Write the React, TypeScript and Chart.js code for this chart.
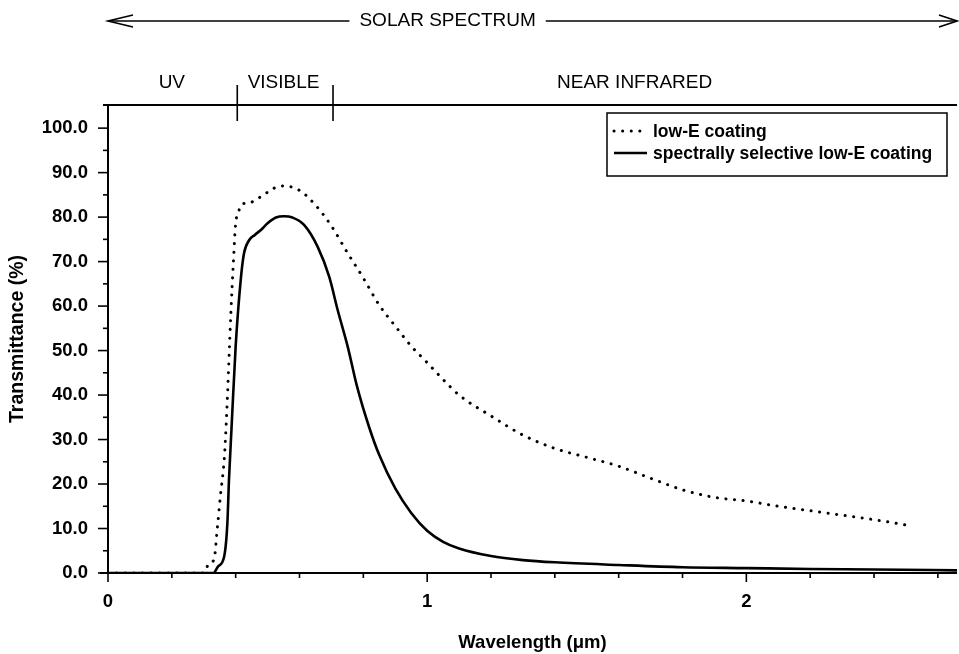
import { useEffect, useRef } from 'react';
import { Chart, registerables } from 'chart.js';

Chart.register(...registerables);

// Transmittance curves (wavelength in µm, transmittance in %)
const lowEWavelength = [
  0, 0.3, 0.317, 0.332, 0.343, 0.353, 0.364, 0.372, 0.385, 0.393, 0.4, 0.408, 0.416,
  0.442, 0.47, 0.498, 0.523, 0.55, 0.6, 0.65, 0.7, 0.75, 0.8, 0.85, 0.9, 0.95, 1.0,
  1.05, 1.1, 1.2, 1.3, 1.4, 1.5, 1.6, 1.7, 1.8, 1.9, 2.0, 2.1, 2.2, 2.3, 2.4, 2.5,
];
const lowETransmittance = [
  0, 0, 2.2, 3, 10.4, 17.9, 25.4, 36, 58.4, 70, 78.6, 80.8, 82.7,
  83.2, 84.2, 85.5, 86.6, 87, 86, 82.7, 78, 72, 66.3, 60.2, 55.5, 51, 47.3,
  43.5, 40, 35.3, 31, 28, 26, 24, 21.3, 18.7, 17, 16.2, 15, 14, 13, 12, 10.8,
];

const selectiveWavelength = [
  0, 0.33, 0.345, 0.364, 0.374, 0.379, 0.387, 0.4, 0.416, 0.426, 0.442, 0.46, 0.479,
  0.5, 0.526, 0.552, 0.578, 0.615, 0.657, 0.693, 0.72, 0.751, 0.78, 0.819, 0.85, 0.9,
  0.95, 1.0, 1.05, 1.1, 1.2, 1.3, 1.4, 1.6, 1.8, 2.0, 2.2, 2.4, 2.66,
];
const selectiveTransmittance = [
  0, 0, 1.5, 3.7, 11.2, 20.9, 32.5, 51, 66, 71.8, 74.8, 76, 77.1,
  78.6, 79.9, 80.2, 79.9, 78.2, 73.3, 66.6, 59, 50.9, 42, 32.6, 26.5, 19,
  13.5, 9.5, 7, 5.5, 3.8, 2.9, 2.4, 1.8, 1.3, 1.1, 0.9, 0.8, 0.6,
];

const seriesLabels = ['low-E coating', 'spectrally selective low-E coating'];

// Axes
const X_MAX = 2.66;
const Y_MAX = 105.2;
const xMajorTicks = [0, 1, 2];
const xMinorTicks = [0.2, 0.4, 0.6, 0.8, 1.2, 1.4, 1.6, 1.8, 2.2, 2.4, 2.6];
const yMajorTicks = [0, 10, 20, 30, 40, 50, 60, 70, 80, 90, 100];
const yMinorTicks = [5, 15, 25, 35, 45, 55, 65, 75, 85, 95];

// Spectral bands along the top
const bandLabels = ['UV', 'VISIBLE', 'NEAR INFRARED'];
const bandCenters = [0.2, 0.55, 1.65];
const bandBoundaries = [0.405, 0.705];

const INK = '#000000';
const FONT = "'Liberation Sans', Arial, Helvetica, sans-serif";

const overlayPlugin = {
  id: 'spectrumOverlay',
  afterDraw(chart: any) {
    const { ctx, chartArea: a } = chart;
    const xs = chart.scales.x;
    const ys = chart.scales.y;
    const seg = (x1: number, y1: number, x2: number, y2: number) => {
      ctx.beginPath();
      ctx.moveTo(x1, y1);
      ctx.lineTo(x2, y2);
      ctx.stroke();
    };

    ctx.save();
    ctx.strokeStyle = INK;
    ctx.fillStyle = INK;
    ctx.lineCap = 'butt';

    // axis lines and the band rule on top
    ctx.lineWidth = 2;
    seg(a.left, a.top, a.left, a.bottom + 1);
    seg(a.left - 8, a.bottom, a.right, a.bottom);
    seg(a.left - 5, a.top, a.right, a.top);

    // tick marks
    ctx.lineWidth = 1.6;
    yMajorTicks.forEach((v) => {
      const py = ys.getPixelForValue(v);
      seg(a.left - 10, py, a.left, py);
    });
    yMinorTicks.forEach((v) => {
      const py = ys.getPixelForValue(v);
      seg(a.left - 5, py, a.left, py);
    });
    xMajorTicks.forEach((v) => {
      const px = xs.getPixelForValue(v);
      seg(px, a.bottom, px, a.bottom + 9);
    });
    xMinorTicks.forEach((v) => {
      const px = xs.getPixelForValue(v);
      seg(px, a.bottom, px, a.bottom + 5);
    });

    // band separators and labels
    bandBoundaries.forEach((v) => {
      const px = xs.getPixelForValue(v);
      seg(px, a.top - 20, px, a.top + 16);
    });
    ctx.font = `19px ${FONT}`;
    ctx.textAlign = 'center';
    ctx.textBaseline = 'alphabetic';
    bandLabels.forEach((t, i) => {
      ctx.fillText(t, xs.getPixelForValue(bandCenters[i]), a.top - 17);
    });

    // solar spectrum double arrow
    const arrowY = 21;
    const title = 'SOLAR SPECTRUM';
    const titleX = a.left + 0.4 * (a.right - a.left);
    ctx.font = `19px ${FONT}`;
    ctx.textBaseline = 'middle';
    ctx.fillText(title, titleX, arrowY);
    const half = ctx.measureText(title).width / 2;
    ctx.lineWidth = 1.6;
    seg(a.left, arrowY, titleX - half - 10, arrowY);
    seg(titleX + half + 10, arrowY, a.right, arrowY);
    ctx.beginPath();
    ctx.moveTo(a.left + 25, arrowY - 6);
    ctx.lineTo(a.left, arrowY);
    ctx.lineTo(a.left + 25, arrowY + 6);
    ctx.stroke();
    ctx.beginPath();
    ctx.moveTo(a.right - 18, arrowY - 6);
    ctx.lineTo(a.right, arrowY);
    ctx.lineTo(a.right - 18, arrowY + 6);
    ctx.stroke();

    // axis titles
    ctx.font = `bold 18.5px ${FONT}`;
    ctx.textBaseline = 'middle';
    ctx.fillText('Wavelength (μm)', (a.left + a.right) / 2, 643);
    ctx.save();
    ctx.font = `bold 19.5px ${FONT}`;
    ctx.translate(18, (a.top + a.bottom) / 2);
    ctx.rotate(-Math.PI / 2);
    ctx.fillText('Transmittance (%)', 0, 0);
    ctx.restore();

    // legend
    const boxW = 340;
    const boxH = 63;
    const boxX = a.right - 10 - boxW;
    const boxY = a.top + 8;
    ctx.lineWidth = 1.5;
    ctx.strokeRect(boxX, boxY, boxW, boxH);
    const rows = [boxY + 18, boxY + 40];
    ctx.font = `bold 17.5px ${FONT}`;
    ctx.textAlign = 'left';
    chart.data.datasets.forEach((ds: any, i: number) => {
      const ry = rows[i];
      ctx.save();
      ctx.lineWidth = ds.borderWidth;
      ctx.lineCap = ds.borderCapStyle || 'butt';
      ctx.setLineDash(ds.borderDash || []);
      seg(boxX + 7, ry, boxX + 40, ry);
      ctx.restore();
      ctx.fillText(ds.label, boxX + 46, ry + 1);
    });

    ctx.restore();
  },
};

export default function App() {
  const canvasRef = useRef<HTMLCanvasElement | null>(null);

  useEffect(() => {
    const canvas = canvasRef.current;
    if (!canvas) return;
    const chart = new Chart(canvas, {
      type: 'line',
      data: {
        datasets: [
          {
            label: seriesLabels[0],
            data: lowEWavelength.map((x, i) => ({ x, y: lowETransmittance[i] })),
            borderColor: INK,
            borderWidth: 3,
            borderDash: [0.1, 8.5],
            borderCapStyle: 'round',
            pointRadius: 0,
            cubicInterpolationMode: 'monotone',
            fill: false,
          },
          {
            label: seriesLabels[1],
            data: selectiveWavelength.map((x, i) => ({ x, y: selectiveTransmittance[i] })),
            borderColor: INK,
            borderWidth: 2.6,
            pointRadius: 0,
            cubicInterpolationMode: 'monotone',
            fill: false,
          },
        ],
      },
      options: {
        responsive: false,
        animation: false,
        devicePixelRatio: 1,
        layout: { padding: { left: 0, top: 105, right: 2, bottom: 0 } },
        plugins: {
          legend: { display: false },
          tooltip: { enabled: false },
        },
        scales: {
          x: {
            type: 'linear',
            min: 0,
            max: X_MAX,
            afterFit: (s: any) => {
              s.height = 81;
            },
            afterBuildTicks: (s: any) => {
              s.ticks = xMajorTicks.map((value) => ({ value }));
            },
            grid: { display: false, drawTicks: false },
            border: { display: false },
            ticks: {
              padding: 18,
              color: INK,
              autoSkip: false,
              maxRotation: 0,
              font: { family: FONT, size: 18.5, weight: 'bold' },
              callback: (v: any) => String(v),
            },
          },
          y: {
            type: 'linear',
            min: 0,
            max: Y_MAX,
            afterFit: (s: any) => {
              s.width = 108;
            },
            afterBuildTicks: (s: any) => {
              s.ticks = yMajorTicks.map((value) => ({ value }));
            },
            grid: { display: false, drawTicks: false },
            border: { display: false },
            ticks: {
              padding: 20,
              color: INK,
              autoSkip: false,
              font: { family: FONT, size: 18.5, weight: 'bold' },
              callback: (v: any) => Number(v).toFixed(1),
            },
          },
        },
      },
      plugins: [overlayPlugin],
    } as any);
    return () => chart.destroy();
  }, []);

  return (
    <div style={{ position: 'fixed', left: 0, top: 0, width: 959, height: 654, background: '#fff' }}>
      <canvas ref={canvasRef} width={959} height={654} style={{ display: 'block' }} />
    </div>
  );
}
